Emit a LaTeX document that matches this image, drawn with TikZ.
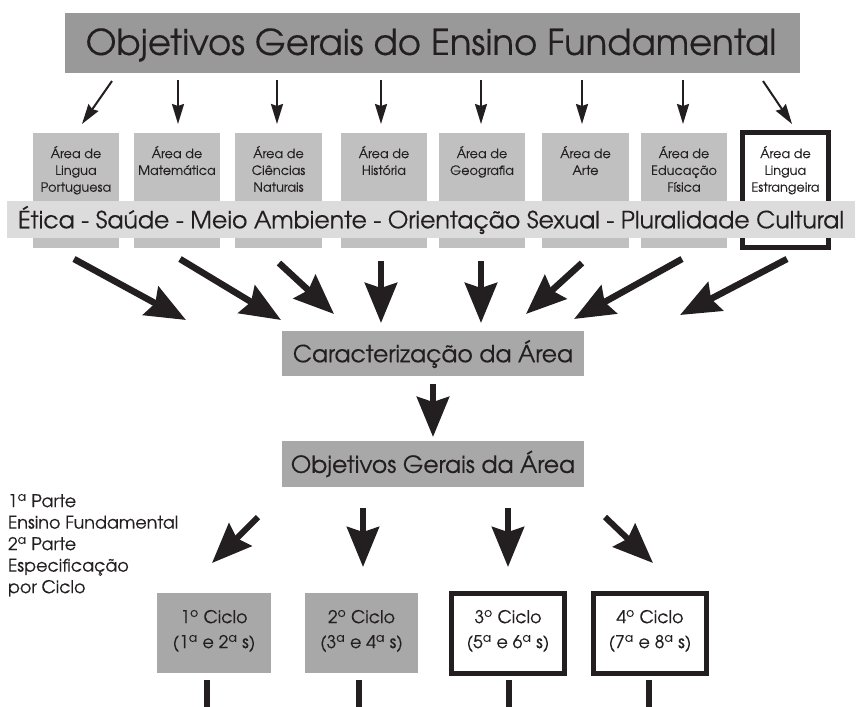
\documentclass[tikz,border=0pt]{standalone}
\usepackage{fontspec}
\setmainfont{TeX Gyre Adventor}[FakeBold=0.3]
\usetikzlibrary{arrows.meta}
\definecolor{ink}{HTML}{231F20}
\definecolor{titlegray}{HTML}{999999}
\definecolor{areagray}{HTML}{C0C0C0}
\definecolor{bandgray}{HTML}{DCDCDC}
\definecolor{midgray}{HTML}{A8A8A8}
\tikzset{
  every node/.style={text=ink, inner sep=0pt, outer sep=0pt},
  fillbox/.style={draw=none, anchor=north west},
  areabox/.style={fillbox, fill=areagray, minimum width=86pt, minimum height=115pt},
  framebox/.style={draw=ink, line width=5pt, fill=white},
  areatext/.style={anchor=north, align=center, font=\fontsize{12.8}{16.8}\selectfont},
  cycletext/.style={align=center, font=\fontsize{17.5}{25}\selectfont},
  thinarrow/.style={draw=ink, line width=2pt, -{Stealth[length=20pt, width=12pt, inset=2pt]}},
  bigarrow/.style={draw=ink, line width=6.5pt, -{Stealth[length=40pt, width=32pt, inset=5pt]}},
  stem/.style={draw=ink, line width=6pt},
}
\begin{document}
\begin{tikzpicture}[x=1pt, y=-1pt]
\useasboundingbox (0,0) rectangle (857,707);

% title
\node[fillbox, fill=titlegray, minimum width=735pt, minimum height=60pt] (title) at (65,13) {};
\node[font=\fontsize{35.5}{40}\selectfont] (titletext) at (431,45) {Objetivos Gerais do Ensino Fundamental};

% area boxes
\node[areabox] (a1) at (33,133) {};
\node[areabox] (a2) at (134,133) {};
\node[areabox, minimum width=87pt] (a3) at (235,133) {};
\node[areabox] (a4) at (341,133) {};
\node[areabox] (a5) at (439,133) {};
\node[areabox, minimum width=87pt] (a6) at (542,133) {};
\node[areabox] (a7) at (641,133) {};
\draw[framebox] (742.5,132.5) rectangle (828.5,247.5);
\coordinate (a8) at (785.5,190);

\node[areatext] (t1) at (76,146) {Área de\\Lingua\\Portuguesa};
\node[areatext] (t2) at (177,146) {Área de\\Matemática};
\node[areatext] (t3) at (278.5,146) {Área de\\Ciências\\Naturais};
\node[areatext] (t4) at (384,146) {Área de\\História};
\node[areatext] (t5) at (482,146) {Área de\\Geografia};
\node[areatext] (t6) at (585.5,146) {Área de\\Arte};
\node[areatext] (t7) at (684,146) {Área de\\Educação\\Física};
\node[areatext] (t8) at (785.5,146) {Área de\\Lingua\\Estrangeira};

% band
\node[fillbox, fill=bandgray, minimum width=848pt, minimum height=37pt] (band) at (7,201) {};
\node[font=\fontsize{23.6}{26}\selectfont] (bandtext) at (431,220) {Ética - Saúde - Meio Ambiente - Orientação Sexual - Pluralidade Cultural};

% top arrows
\coordinate (s1) at (112,81); \coordinate (e1) at (82,124);
\coordinate (s2) at (178,80); \coordinate (e2) at (178,124);
\coordinate (s3) at (277,80); \coordinate (e3) at (277,124);
\coordinate (s4) at (381,80); \coordinate (e4) at (381,124);
\coordinate (s5) at (481,80); \coordinate (e5) at (481,124);
\coordinate (s6) at (582,80); \coordinate (e6) at (582,124);
\coordinate (s7) at (683,80); \coordinate (e7) at (683,124);
\coordinate (s8) at (763,81); \coordinate (e8) at (792,124);
\foreach \i in {1,...,8} { \draw[thinarrow] (s\i) -- (e\i); }

% middle nodes
\node[fillbox, fill=midgray, minimum width=302pt, minimum height=45pt] (carac) at (282,331) {};
\node[font=\fontsize{23.5}{26}\selectfont] (caractext) at (433,354) {Caracterização da Área};
\node[fillbox, fill=midgray, minimum width=302pt, minimum height=46pt] (obj) at (282,441) {};
\node[font=\fontsize{23.5}{26}\selectfont] (objtext) at (433,464) {Objetivos Gerais da Área};

% big arrows to caracterizacao
\coordinate (m1) at (74,259);  \coordinate (n1) at (186,320);
\coordinate (m2) at (180,259); \coordinate (n2) at (281,320);
\coordinate (m3) at (279,263); \coordinate (n3) at (334,314);
\coordinate (m4) at (381,261); \coordinate (n4) at (381,323);
\coordinate (m5) at (481,261); \coordinate (n5) at (481,323);
\coordinate (m6) at (582,263); \coordinate (n6) at (526,314);
\coordinate (m7) at (682,259); \coordinate (n7) at (574,319);
\coordinate (m8) at (787,259); \coordinate (n8) at (680,315);
\foreach \i in {1,...,8} { \draw[bigarrow] (m\i) -- (n\i); }

\coordinate (c1) at (433,384); \coordinate (c2) at (433,437);
\draw[bigarrow] (c1) -- (c2);

% left text
\node[anchor=north west, align=left, font=\fontsize{17.5}{21.5}\selectfont] (parts) at (8,494)
  {1\textsuperscript{a} Parte\\Ensino Fundamental\\2\textsuperscript{a} Parte\\Especificação\\por Ciclo};

% cycle arrows
\coordinate (p1) at (258,517); \coordinate (q1) at (212,563);
\coordinate (p2) at (363,508); \coordinate (q2) at (363,567);
\coordinate (p3) at (508,508); \coordinate (q3) at (508,567);
\coordinate (p4) at (605,517); \coordinate (q4) at (653,563);
\foreach \i in {1,...,4} { \draw[bigarrow, line width=6pt] (p\i) -- (q\i); }

% cycle boxes
\node[fillbox, fill=midgray, minimum width=114pt, minimum height=80pt] (cy1) at (157,593) {};
\node[fillbox, fill=midgray, minimum width=113pt, minimum height=80pt] (cy2) at (305,593) {};
\draw[framebox] (451.5,593.5) rectangle (564.5,673.5);
\draw[framebox] (593.5,593.5) rectangle (706.5,673.5);
\coordinate (cy3) at (508,633.5);
\coordinate (cy4) at (650,633.5);

\node[cycletext] (ct1) at (214,631) {1\textsuperscript{o} Ciclo\\(1\textsuperscript{a} e 2\textsuperscript{a} s)};
\node[cycletext] (ct2) at (361.5,631) {2\textsuperscript{o} Ciclo\\(3\textsuperscript{a} e 4\textsuperscript{a} s)};
\node[cycletext] (ct3) at (508,631) {3\textsuperscript{o} Ciclo\\(5\textsuperscript{a} e 6\textsuperscript{a} s)};
\node[cycletext] (ct4) at (650,631) {4\textsuperscript{o} Ciclo\\(7\textsuperscript{a} e 8\textsuperscript{a} s)};

% stems below cycles
\coordinate (u1) at (207,680); \coordinate (v1) at (207,707);
\coordinate (u2) at (359,680); \coordinate (v2) at (359,707);
\coordinate (u3) at (509,680); \coordinate (v3) at (509,707);
\coordinate (u4) at (649,680); \coordinate (v4) at (649,707);
\foreach \i in {1,...,4} { \draw[stem] (u\i) -- (v\i); }
\end{tikzpicture}
\end{document}
